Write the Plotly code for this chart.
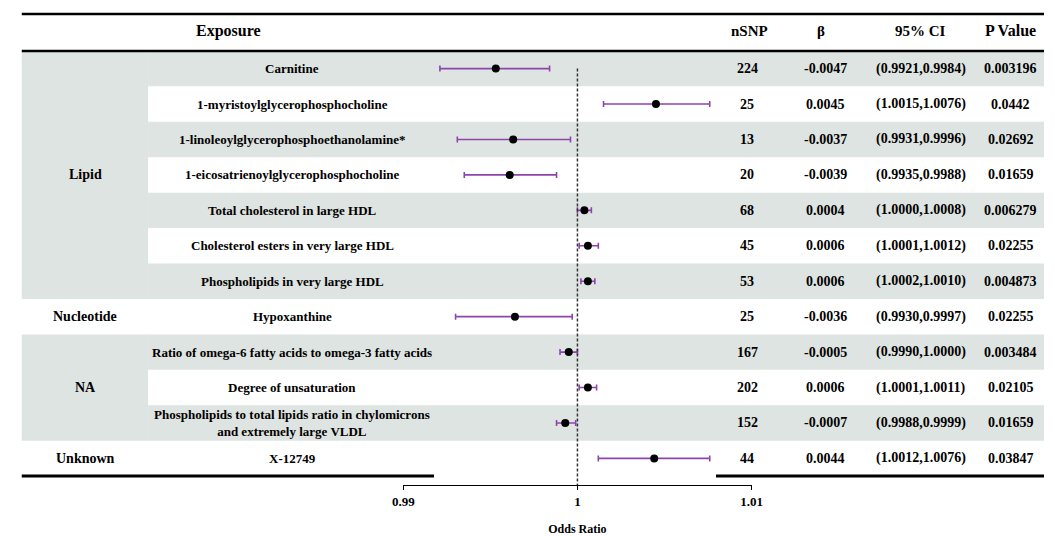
import plotly.graph_objects as go

# ---------------- data ----------------
groups = ["Lipid", "Lipid", "Lipid", "Lipid", "Lipid", "Lipid", "Lipid",
          "Nucleotide", "NA", "NA", "NA", "Unknown"]
exposures = [
    "Carnitine",
    "1-myristoylglycerophosphocholine",
    "1-linoleoylglycerophosphoethanolamine*",
    "1-eicosatrienoylglycerophosphocholine",
    "Total cholesterol in large HDL",
    "Cholesterol esters in very large HDL",
    "Phospholipids in very large HDL",
    "Hypoxanthine",
    "Ratio of omega-6 fatty acids to omega-3 fatty acids",
    "Degree of unsaturation",
    "Phospholipids to total lipids ratio in chylomicrons<br>and extremely large VLDL",
    "X-12749",
]
nsnp = [224, 25, 13, 20, 68, 45, 53, 25, 167, 202, 152, 44]
beta = ["-0.0047", "0.0045", "-0.0037", "-0.0039", "0.0004", "0.0006", "0.0006",
        "-0.0036", "-0.0005", "0.0006", "-0.0007", "0.0044"]
odds_ratio = [0.99531, 1.00451, 0.99631, 0.99611, 1.00040, 1.00060, 1.00060,
              0.99641, 0.99950, 1.00060, 0.99930, 1.00441]
ci_low = [0.9921, 1.0015, 0.9931, 0.9935, 1.0000, 1.0001, 1.0002,
          0.9930, 0.9990, 1.0001, 0.9988, 1.0012]
ci_high = [0.9984, 1.0076, 0.9996, 0.9988, 1.0008, 1.0012, 1.0010,
           0.9997, 1.0000, 1.0011, 0.9999, 1.0076]
p_values = ["0.003196", "0.0442", "0.02692", "0.01659", "0.006279", "0.02255",
            "0.004873", "0.02255", "0.003484", "0.02105", "0.01659", "0.03847"]
headers = ["Exposure", "nSNP", "β", "95% CI", "P Value"]
x_ticks = [0.99, 1.0, 1.01]
x_tick_labels = ["0.99", "1", "1.01"]
x_title = "Odds Ratio"

# ---------------- layout geometry (pixels) ----------------
W, H = 1055, 536
ROW_H = 35.5
ROW0_PX = 68.75          # centre of first row
AXIS_PX = 486            # x-axis line
GRAY = "#dee4e1"
PURPLE = "#8e44ad"
FONT = "Liberation Serif"

y_top = -ROW0_PX / ROW_H
y_bot = y_top + AXIS_PX / ROW_H


def py(px):
    return y_top + px / ROW_H


def px_x(px):
    return px / W


rows = list(range(len(exposures)))

fig = go.Figure()

fig.add_trace(go.Scatter(
    x=odds_ratio, y=rows, mode="markers",
    marker=dict(color="black", size=8),
    error_x=dict(type="data", symmetric=False,
                 array=[h - o for h, o in zip(ci_high, odds_ratio)],
                 arrayminus=[o - l for o, l in zip(odds_ratio, ci_low)],
                 color=PURPLE, thickness=1.6, width=3),
    cliponaxis=False, showlegend=False, hoverinfo="skip",
))

shapes = []
# row stripes
for i in rows:
    if i % 2 == 0:
        shapes.append(dict(type="rect", xref="paper", yref="y",
                           x0=px_x(140), x1=1, y0=i - 0.5, y1=i + 0.5,
                           fillcolor=GRAY, line_width=0, layer="below"))
# group column
group_order = []
for g in groups:
    if g not in group_order:
        group_order.append(g)
for gi, g in enumerate(group_order):
    idx = [i for i, gg in enumerate(groups) if gg == g]
    if gi % 2 == 0:
        shapes.append(dict(type="rect", xref="paper", yref="y",
                           x0=px_x(11), x1=px_x(140),
                           y0=min(idx) - 0.5, y1=max(idx) + 0.5,
                           fillcolor=GRAY, line_width=0, layer="below"))

# horizontal rules
shapes.append(dict(type="line", xref="paper", yref="y", x0=px_x(11), x1=1,
                   y0=py(14), y1=py(14), line=dict(color="black", width=2.5)))
shapes.append(dict(type="line", xref="paper", yref="y", x0=px_x(11), x1=1,
                   y0=-0.5, y1=-0.5, line=dict(color="black", width=2.5)))
for a, b in [(11, 432), (720, W)]:
    shapes.append(dict(type="line", xref="paper", yref="y", x0=px_x(a), x1=px_x(b),
                       y0=len(rows) - 0.5, y1=len(rows) - 0.5,
                       line=dict(color="black", width=3)))
# reference line at OR = 1
shapes.append(dict(type="line", xref="x", yref="y", x0=1, x1=1,
                   y0=rows[0], y1=py(AXIS_PX + 2),
                   line=dict(color="#333333", width=1.5, dash="3px,2px")))

annotations = []


def txt(x, y, s, size=13):
    annotations.append(dict(xref="paper", yref="y", x=px_x(x), y=y,
                            text="<b>" + s + "</b>", showarrow=False,
                            xanchor="center", yanchor="middle",
                            font=dict(family=FONT, size=size, color="black")))


# headers
hy = py(31)
for h, x, s in zip(headers, [222, 754, 827, 929, 1021], [16, 15, 15, 15, 16]):
    txt(x, hy, h, size=s)

# group labels
for g in group_order:
    idx = [i for i, gg in enumerate(groups) if gg == g]
    txt(76, (min(idx) + max(idx)) / 2, g, size=14)

for i in rows:
    txt(287, i, exposures[i], size=13)
    txt(752, i, str(nsnp[i]), size=14)
    txt(832, i, beta[i], size=14)
    txt(929, i, "(%.4f,%.4f)" % (ci_low[i], ci_high[i]), size=14)
    txt(1021, i, p_values[i], size=14)

fig.update_layout(
    width=W, height=H, margin=dict(l=0, r=0, t=0, b=0),
    paper_bgcolor="white", plot_bgcolor="rgba(0,0,0,0)",
    shapes=shapes, annotations=annotations,
    xaxis=dict(domain=[px_x(400.7), px_x(756.3)], range=[x_ticks[0], x_ticks[-1]],
               showgrid=False, zeroline=False, showline=True, linecolor="black",
               linewidth=1.2, ticks="outside", ticklen=4, tickwidth=1.2,
               tickcolor="black", tickvals=x_ticks,
               ticktext=["<b>" + t + "</b>" for t in x_tick_labels],
               tickfont=dict(family=FONT, size=13, color="black"),
               title=dict(text="<b>" + x_title + "</b>", standoff=19,
                          font=dict(family=FONT, size=12, color="black"))),
    yaxis=dict(domain=[(H - AXIS_PX) / H, 1], range=[y_bot, y_top],
               visible=False, showgrid=False, zeroline=False),
)

fig.write_html("out.html", config={"displayModeBar": False},
               post_script="document.body.style.margin='0px';"
                           "document.body.style.overflow='hidden';")
